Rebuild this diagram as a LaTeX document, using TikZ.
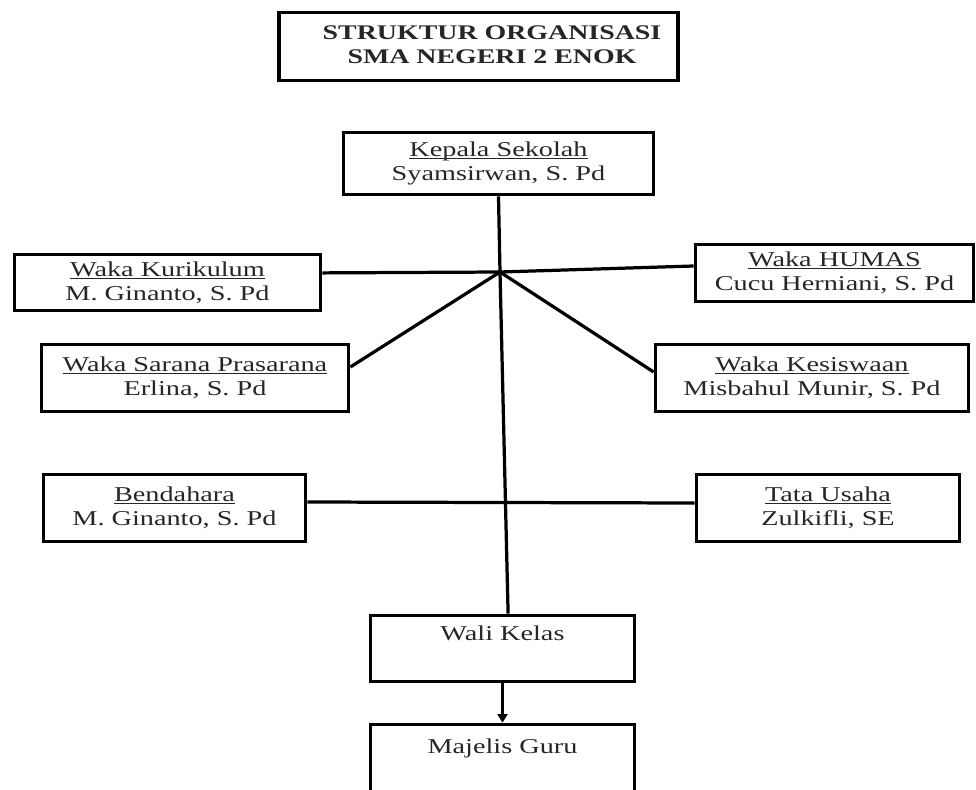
\documentclass[tikz,border=0pt]{standalone}
\usepackage{fontspec}
\setmainfont{Liberation Serif}[FakeStretch=1.34]
\usetikzlibrary{arrows.meta}

\newcommand{\garis}[1]{\underline{\raisebox{0pt}[\height][0pt]{#1}}}

\tikzset{
    kotak/.style={draw=black, line width=2.6pt, align=center, inner sep=0pt,
        text=black!85, font=\fontsize{15pt}{17pt}\selectfont},
    hubung/.style={line width=2.3pt, line join=round},
}

\begin{document}
\begin{tikzpicture}[x=0.025cm,y=-0.025cm]

% Fix the picture size (976 x 790 px)
\clip (0,0) rectangle (976,790);

% Draw the title (text sits a bit right of the box centre)
\node[kotak, line width=2.8pt, minimum width=9.95cm, minimum height=1.7cm] (judul) at (478.5,46.5) {};
\node[align=center, inner sep=0pt, text=black!85,
    font=\fontsize{14.8pt}{17pt}\selectfont\bfseries] (judulteks) at (492,44.5)
    {STRUKTUR ORGANISASI\\SMA NEGERI 2 ENOK};

% Draw the head and the deputies
\node[kotak, minimum width=7.75cm, minimum height=1.55cm] (kepsek) at (498.5,163.5)
    {\garis{Kepala Sekolah}\\Syamsirwan, S. Pd};
\node[kotak, minimum width=7.65cm, minimum height=1.4cm] (kurikulum) at (167.5,282.5)
    {\garis{Waka Kurikulum}\\M. Ginanto, S. Pd};
\node[kotak, minimum width=6.95cm, minimum height=1.425cm] (humas) at (834.5,273)
    {\garis{Waka HUMAS}\\Cucu Herniani, S. Pd};
\node[kotak, minimum width=7.675cm, minimum height=1.675cm] (sarpras) at (195,378)
    {\garis{Waka Sarana Prasarana}\\Erlina, S. Pd};
\node[kotak, minimum width=7.825cm, minimum height=1.675cm] (kesiswaan) at (812,378)
    {\garis{Waka Kesiswaan}\\Misbahul Munir, S. Pd};

% Draw the staff row
\node[kotak, minimum width=6.55cm, minimum height=1.675cm] (bendahara) at (174.5,508)
    {\garis{Bendahara}\\M. Ginanto, S. Pd};
\node[kotak, minimum width=6.575cm, minimum height=1.675cm] (tu) at (828,508)
    {\garis{Tata Usaha}\\Zulkifli, SE};

% Draw the last two boxes
\node[kotak, minimum width=6.6cm, minimum height=1.65cm] (wali) at (502.5,648.5)
    {Wali Kelas\\\strut};
\node[kotak, minimum width=6.6cm, minimum height=1.85cm] (majelis) at (502.5,761.5)
    {Majelis Guru\\\strut};

% Draw the connecting lines
\coordinate (pusat) at (500,272);
\draw[hubung] (kepsek.south) -- (pusat);
\draw[hubung] ([yshift=2.4mm]kurikulum.east) -- (pusat) -- ([yshift=1.75mm]humas.west);
\draw[hubung] ([yshift=2.75mm]sarpras.east) -- (pusat) -- ([yshift=1.5mm]kesiswaan.west);
\draw[hubung] (pusat) -- ([xshift=1.4mm]wali.north);
\draw[hubung] ([yshift=1.5mm]bendahara.east) -- ([yshift=1.25mm]tu.west);
\draw[hubung,-{Triangle[width=7pt,length=6pt]}] (wali.south) -- (majelis.north);

\end{tikzpicture}
\end{document}
